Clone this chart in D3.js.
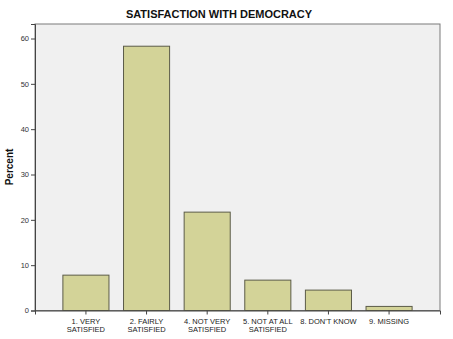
<!DOCTYPE html>
<html>
<head>
<meta charset="utf-8">
<script src="https://cdn.jsdelivr.net/npm/d3@7"></script>
<style>
  html, body { margin: 0; padding: 0; background: #fff; }
  svg { display: block; font-family: "Liberation Sans", Arial, sans-serif; }
</style>
</head>
<body>
<svg id="chart" width="453" height="339"></svg>
<script>
// Survey responses: satisfaction with democracy (percent of respondents)
const categories = [
  ["1. VERY", "SATISFIED"],
  ["2. FAIRLY", "SATISFIED"],
  ["4. NOT VERY", "SATISFIED"],
  ["5. NOT AT ALL", "SATISFIED"],
  ["8. DON'T KNOW"],
  ["9. MISSING"]
];
const percents = [7.8, 58.3, 21.7, 6.7, 4.5, 0.9];
const yTicks = [0, 10, 20, 30, 40, 50, 60];

const svg = d3.select("#chart");
const plot = { left: 35, right: 440, top: 24, bottom: 310.5 };

const keys = categories.map(c => c.join(" "));
const x = d3.scaleBand()
  .domain(keys)
  .range([plot.left, plot.right])
  .paddingInner(0.24)
  .paddingOuter(0.46);

const y = d3.scaleLinear()
  .domain([0, 63.2])
  .range([plot.bottom, plot.top]);

// plot background and frame
svg.append("rect")
  .attr("x", plot.left).attr("y", plot.top)
  .attr("width", plot.right - plot.left)
  .attr("height", plot.bottom - plot.top)
  .attr("fill", "#f0f0f0")
  .attr("stroke", "#7a7a7a")
  .attr("stroke-width", 1);

// bars
svg.append("g").selectAll("rect")
  .data(percents)
  .join("rect")
  .attr("x", (d, i) => x(keys[i]))
  .attr("y", d => y(d))
  .attr("width", x.bandwidth())
  .attr("height", d => y(0) - y(d))
  .attr("fill", "#d3d398")
  .attr("stroke", "#5c5c48")
  .attr("stroke-width", 1);

// y axis
const yAxis = svg.append("g")
  .attr("transform", `translate(${plot.left},0)`)
  .call(d3.axisLeft(y).tickValues(yTicks).tickSize(4).tickPadding(2).tickFormat(d3.format("d")));
yAxis.select(".domain").attr("stroke", "#444");
yAxis.selectAll(".tick line").attr("stroke", "#444");
yAxis.selectAll(".tick text")
  .attr("fill", "#333")
  .style("font-size", "7.5px")
  .style("font-family", "Liberation Sans, Arial, sans-serif");

// x axis
const xAxis = svg.append("g")
  .attr("transform", `translate(0,${plot.bottom})`)
  .call(d3.axisBottom(x).tickSize(4).tickFormat(""));
xAxis.select(".domain").attr("stroke", "#444");
xAxis.selectAll(".tick line").attr("stroke", "#444");

// category labels, wrapped onto two lines
const labels = svg.append("g");
categories.forEach((lines, i) => {
  const cx = x(keys[i]) + x.bandwidth() / 2;
  const t = labels.append("text")
    .attr("x", cx)
    .attr("y", 324)
    .attr("text-anchor", "middle")
    .attr("fill", "#222")
    .style("font-size", "7.5px");
  lines.forEach((ln, j) => {
    t.append("tspan").attr("x", cx).attr("dy", j === 0 ? 0 : 7.5).text(ln);
  });
});

// axis title
svg.append("text")
  .attr("transform", "translate(13,167) rotate(-90)")
  .attr("text-anchor", "middle")
  .attr("font-weight", "bold")
  .attr("fill", "#111")
  .style("font-size", "10px")
  .text("Percent");

// chart title
svg.append("text")
  .attr("x", 219)
  .attr("y", 18)
  .attr("text-anchor", "middle")
  .attr("font-weight", "bold")
  .attr("fill", "#111")
  .style("font-size", "11px")
  .text("SATISFACTION WITH DEMOCRACY");
</script>
</body>
</html>
